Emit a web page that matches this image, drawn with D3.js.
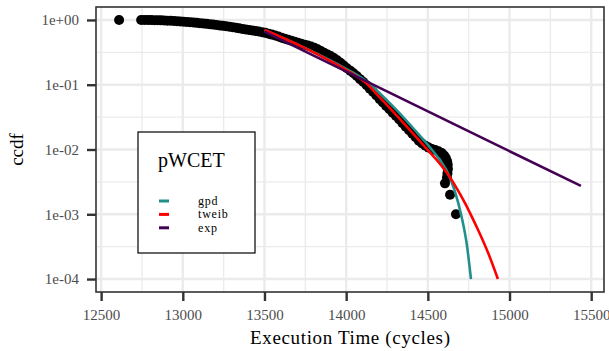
<!DOCTYPE html>
<html>
<head>
<meta charset="utf-8">
<script src="https://cdn.jsdelivr.net/npm/d3@7"></script>
<style>
  body { margin: 0; background: #fff; }
  svg text { font-family: "Liberation Serif", "DejaVu Serif", serif; }
</style>
</head>
<body>
<div id="chart"></div>
<script>
// observed execution times and their empirical ccdf
const execTime = [12610,
  12745, 12765, 12785, 12805, 12825, 12845, 12865, 12885, 12905, 12925,
  12945, 12965, 12985, 13005, 13025, 13045, 13065, 13085, 13105, 13125,
  13145, 13165, 13185, 13205, 13225, 13245, 13265, 13285, 13305, 13325,
  13345, 13365, 13385, 13405, 13425, 13445, 13465, 13485, 13505, 13525,
  13545, 13565, 13585, 13605, 13625, 13645, 13665, 13685, 13705, 13725,
  13745, 13765, 13785, 13805, 13825, 13845, 13865, 13885, 13905, 13925,
  13945, 13965, 13985, 14005, 14025, 14045, 14065, 14085, 14105, 14125,
  14145, 14165, 14185, 14205, 14225, 14245, 14265, 14285, 14305, 14325,
  14345, 14365, 14385, 14405, 14425, 14445, 14465, 14485, 14505, 14525,
  14545, 14565, 14585, 14600, 14610, 14618, 14622, 14623, 14620, 14617,
  14605, 14636, 14672];
const ccdf = [1.0,
  0.999, 0.998, 0.997, 0.995, 0.993, 0.99, 0.986, 0.981, 0.976, 0.97,
  0.963, 0.956, 0.948, 0.94, 0.931, 0.922, 0.912, 0.902, 0.892, 0.882,
  0.871, 0.86, 0.848, 0.836, 0.824, 0.811, 0.798, 0.784, 0.77, 0.756,
  0.742, 0.728, 0.714, 0.70, 0.687, 0.674, 0.662, 0.648, 0.632, 0.612,
  0.594, 0.575, 0.555, 0.532, 0.512, 0.494, 0.477, 0.46, 0.445, 0.43,
  0.416, 0.402, 0.388, 0.372, 0.352, 0.332, 0.312, 0.294, 0.277, 0.258,
  0.238, 0.218, 0.198, 0.18, 0.165, 0.15, 0.136, 0.122, 0.11, 0.098,
  0.087, 0.077, 0.068, 0.06, 0.053, 0.047, 0.042, 0.037, 0.033, 0.029,
  0.0255, 0.0225, 0.0198, 0.0175, 0.0155, 0.0137, 0.0124, 0.0114, 0.0107, 0.0102,
  0.0098, 0.0094, 0.0088, 0.0081, 0.0074, 0.0066, 0.0058, 0.005, 0.0043, 0.0037,
  0.003, 0.002, 0.001];

// fitted pWCET curves
const gpdX = [13500, 13720, 13900, 14025, 14120, 14200, 14300, 14420, 14514, 14570, 14616, 14660, 14707, 14738, 14764];
const gpdY = [0.701, 0.398, 0.240, 0.162, 0.115, 0.0759, 0.0427, 0.020, 0.0107, 0.0071, 0.00468, 0.0025, 0.00091, 0.00035, 0.0001];
const tweibX = [13500, 13720, 13900, 14025, 14120, 14200, 14300, 14411, 14500, 14575, 14630, 14677, 14730, 14768, 14800, 14870, 14929];
const tweibY = [0.701, 0.398, 0.234, 0.155, 0.107, 0.066, 0.0355, 0.0174, 0.0098, 0.006, 0.0039, 0.00251, 0.00145, 0.00093, 0.00063, 0.00025, 0.0001];
const expX = [13500, 14880, 15437];
const expY = [0.66, 0.0132, 0.00275];

const fits = [
  { name: 'gpd', xs: gpdX, ys: gpdY, color: '#21908C' },
  { name: 'tweib', xs: tweibX, ys: tweibY, color: '#FF0000' },
  { name: 'exp', xs: expX, ys: expY, color: '#440154' }
];

const xTicks = [12500, 13000, 13500, 14000, 14500, 15000, 15500];
const xMinor = [12750, 13250, 13750, 14250, 14750, 15250];
const yTicks = [1, 1e-1, 1e-2, 1e-3, 1e-4];
const yMinor = [Math.pow(10, -0.5), Math.pow(10, -1.5), Math.pow(10, -2.5), Math.pow(10, -3.5)];
const yLabels = ['1e+00', '1e-01', '1e-02', '1e-03', '1e-04'];

const W = 609, H = 351;
const margin = { top: 7, right: 5, bottom: 59, left: 96 };
const width = W - margin.left - margin.right;
const height = H - margin.top - margin.bottom;

const svg = d3.select('#chart')
  .append('svg')
  .attr('width', W)
  .attr('height', H);

const g = svg.append('g')
  .attr('transform', `translate(${margin.left}, ${margin.top})`);

// scales with ggplot style 5% expansion
const allX = execTime.concat(gpdX, tweibX, expX);
const xr = d3.extent(allX);
const xPad = (xr[1] - xr[0]) * 0.05;
const x = d3.scaleLinear()
  .domain([xr[0] - xPad, xr[1] + xPad])
  .range([0, width]);

const y = d3.scaleLog()
  .domain([Math.pow(10, -4.2), Math.pow(10, 0.2)])
  .range([height, 0]);

// grid
g.append('g').selectAll('line')
  .data(xMinor).enter().append('line')
  .attr('x1', d => x(d)).attr('x2', d => x(d))
  .attr('y1', 0).attr('y2', height)
  .attr('stroke', '#EBEBEB').attr('stroke-width', 1.3);
g.append('g').selectAll('line')
  .data(yMinor).enter().append('line')
  .attr('y1', d => y(d)).attr('y2', d => y(d))
  .attr('x1', 0).attr('x2', width)
  .attr('stroke', '#EBEBEB').attr('stroke-width', 1.3);
g.append('g').selectAll('line')
  .data(xTicks).enter().append('line')
  .attr('x1', d => x(d)).attr('x2', d => x(d))
  .attr('y1', 0).attr('y2', height)
  .attr('stroke', '#EBEBEB').attr('stroke-width', 2.4);
g.append('g').selectAll('line')
  .data(yTicks).enter().append('line')
  .attr('y1', d => y(d)).attr('y2', d => y(d))
  .attr('x1', 0).attr('x2', width)
  .attr('stroke', '#EBEBEB').attr('stroke-width', 2.4);

// points
g.append('g')
  .selectAll('circle')
  .data(execTime)
  .enter()
  .append('circle')
  .attr('cx', d => x(d))
  .attr('cy', (d, i) => y(ccdf[i]))
  .attr('r', 5)
  .attr('fill', '#000');

// fitted lines
const line = d3.line()
  .x(d => x(d[0]))
  .y(d => y(d[1]))
  .curve(d3.curveMonotoneX);

fits.forEach(f => {
  g.append('path')
    .datum(f.xs.map((v, i) => [v, f.ys[i]]))
    .attr('d', line)
    .attr('fill', 'none')
    .attr('stroke', f.color)
    .attr('stroke-width', 2.6);
});

// panel border
g.append('rect')
  .attr('x', 0).attr('y', 0)
  .attr('width', width).attr('height', height)
  .attr('fill', 'none')
  .attr('stroke', '#333333')
  .attr('stroke-width', 1.6);

// axes
const xAxis = g.append('g')
  .attr('transform', `translate(0, ${height})`)
  .call(d3.axisBottom(x).tickValues(xTicks).tickFormat(d3.format('d')).tickSize(9).tickPadding(8));
const yAxis = g.append('g')
  .call(d3.axisLeft(y).tickValues(yTicks).tickFormat((d, i) => yLabels[i]).tickSize(9).tickPadding(8));

[xAxis, yAxis].forEach(a => {
  a.attr('font-family', null);
  a.select('.domain').remove();
  a.selectAll('.tick line').attr('stroke', '#333333').attr('stroke-width', 2.4);
  a.selectAll('.tick text')
    .attr('fill', '#4D4D4D')
    .attr('font-size', '15px');
});

// axis titles
svg.append('text')
  .attr('x', margin.left + width / 2)
  .attr('y', 344)
  .attr('text-anchor', 'middle')
  .attr('font-size', '19px')
  .attr('textLength', 200)
  .attr('lengthAdjust', 'spacing')
  .attr('fill', '#000')
  .text('Execution Time (cycles)');

svg.append('text')
  .attr('transform', `translate(23, ${margin.top + height / 2}) rotate(-90)`)
  .attr('text-anchor', 'middle')
  .attr('font-size', '19px')
  .attr('fill', '#000')
  .text('ccdf');

// legend
const legend = svg.append('g').attr('transform', 'translate(138, 132)');
legend.append('rect')
  .attr('width', 117).attr('height', 121)
  .attr('fill', '#fff')
  .attr('stroke', '#000')
  .attr('stroke-width', 1.2);
legend.append('text')
  .attr('x', 20).attr('y', 35)
  .attr('font-size', '20px')
  .text('pWCET');

const items = legend.selectAll('g.item')
  .data(fits)
  .enter().append('g')
  .attr('transform', (d, i) => `translate(0, ${69 + i * 13.4})`);
items.append('line')
  .attr('x1', 21).attr('x2', 31)
  .attr('stroke', d => d.color)
  .attr('stroke-width', 3);
items.append('text')
  .attr('x', 60).attr('y', 4)
  .attr('font-size', '12px')
  .attr('letter-spacing', '0.8px')
  .text(d => d.name);
</script>
</body>
</html>
